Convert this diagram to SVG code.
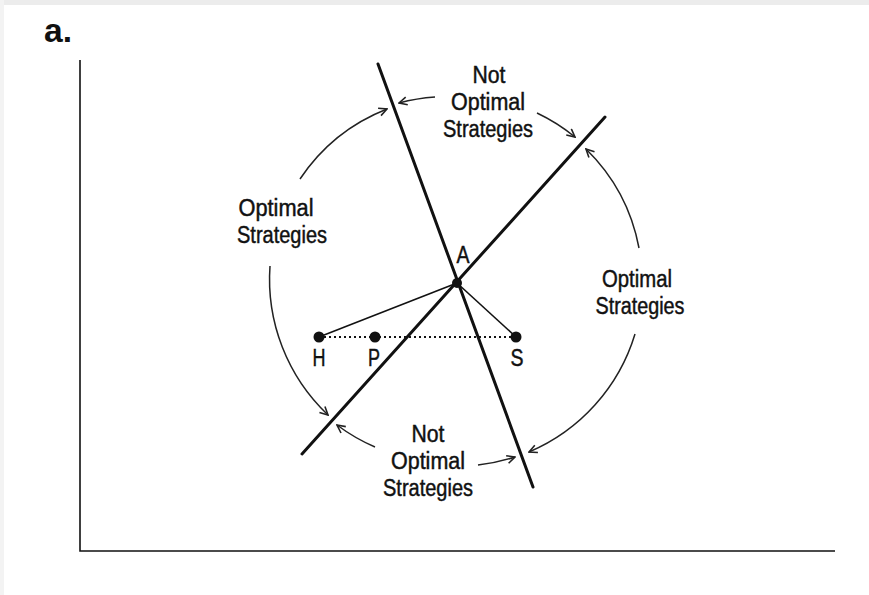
<svg xmlns="http://www.w3.org/2000/svg" width="869" height="595" viewBox="0 0 869 595">
<style>
text{font-family:"Liberation Sans",Arial,sans-serif;fill:#111;stroke:#111;stroke-width:0.45;}
.lbl{font-size:23px;text-anchor:middle;}
.pt{font-size:23px;text-anchor:middle;}
.main{stroke:#111;stroke-width:3;fill:none;stroke-linecap:round;}
.thin{stroke:#111;stroke-width:1.6;fill:none;}
.arc{stroke:#222;stroke-width:1.5;fill:none;marker-end:url(#ah);}
</style>
<defs>
<marker id="ah" viewBox="0 0 10 10" refX="9" refY="5" markerWidth="10" markerHeight="10" markerUnits="userSpaceOnUse" orient="auto">
<path d="M1,1 L9,5 L1,9" fill="none" stroke="#222" stroke-width="1.6"/>
</marker>
</defs>
<rect width="869" height="595" fill="#fff"/>
<rect width="869" height="5" fill="#ececec"/>
<rect width="4" height="595" fill="#f3f3f3"/>
<text x="44" y="42" font-size="34" font-weight="bold" textLength="28" lengthAdjust="spacingAndGlyphs" style="stroke-width:0">a.</text>
<g id="axes">
<path class="thin" d="M80,60 V551 H835"/>
</g>
<g id="lines">
<line class="main" x1="378" y1="64" x2="533" y2="487"/>
<line class="main" x1="302" y1="454" x2="605" y2="117"/>
</g>
<g id="connectors">
<line class="thin" x1="457" y1="283" x2="319" y2="337"/>
<line class="thin" x1="457" y1="283" x2="516" y2="337"/>
<line x1="319" y1="337" x2="516" y2="337" stroke="#111" stroke-width="2" stroke-dasharray="2 3"/>
<path class="arc" d="M300,179 A187,187 0 0 1 387,109"/>
<path class="arc" d="M435,97 A187,187 0 0 0 399,103"/>
<path class="arc" d="M537,113 A187,187 0 0 1 575,137"/>
<path class="arc" d="M639,248 A187,187 0 0 0 586,149"/>
<path class="arc" d="M635,334 A187,187 0 0 1 529,452"/>
<path class="arc" d="M478,465 A187,187 0 0 0 515,457"/>
<path class="arc" d="M375,447 A187,187 0 0 1 337,425"/>
<path class="arc" d="M270,266 A187,187 0 0 0 328,415"/>
</g>
<g id="node-A">
<circle cx="457" cy="283" r="5" fill="#111"/>
<text class="pt" x="463" y="263" textLength="13" lengthAdjust="spacingAndGlyphs">A</text>
</g>
<g id="node-H">
<circle cx="319" cy="337" r="5.5" fill="#111"/>
<text class="pt" x="319" y="366" textLength="13" lengthAdjust="spacingAndGlyphs">H</text>
</g>
<g id="node-P">
<circle cx="375" cy="337" r="5.5" fill="#111"/>
<text class="pt" x="374" y="366" textLength="12" lengthAdjust="spacingAndGlyphs">P</text>
</g>
<g id="node-S">
<circle cx="516" cy="337" r="5.5" fill="#111"/>
<text class="pt" x="517" y="366" textLength="13" lengthAdjust="spacingAndGlyphs">S</text>
</g>
<g id="label-top">
<text class="lbl" x="489" y="83" textLength="33" lengthAdjust="spacingAndGlyphs">Not</text>
<text class="lbl" x="488" y="110" textLength="74" lengthAdjust="spacingAndGlyphs">Optimal</text>
<text class="lbl" x="488" y="137" textLength="90" lengthAdjust="spacingAndGlyphs">Strategies</text>
</g>
<g id="label-bottom">
<text class="lbl" x="428" y="442" textLength="33" lengthAdjust="spacingAndGlyphs">Not</text>
<text class="lbl" x="428" y="469" textLength="74" lengthAdjust="spacingAndGlyphs">Optimal</text>
<text class="lbl" x="428" y="496" textLength="90" lengthAdjust="spacingAndGlyphs">Strategies</text>
</g>
<g id="label-left">
<text class="lbl" x="276" y="216" textLength="75" lengthAdjust="spacingAndGlyphs">Optimal</text>
<text class="lbl" x="282" y="243" textLength="90" lengthAdjust="spacingAndGlyphs">Strategies</text>
</g>
<g id="label-right">
<text class="lbl" x="637" y="287" textLength="70" lengthAdjust="spacingAndGlyphs">Optimal</text>
<text class="lbl" x="640" y="314" textLength="89" lengthAdjust="spacingAndGlyphs">Strategies</text>
</g>
</svg>
